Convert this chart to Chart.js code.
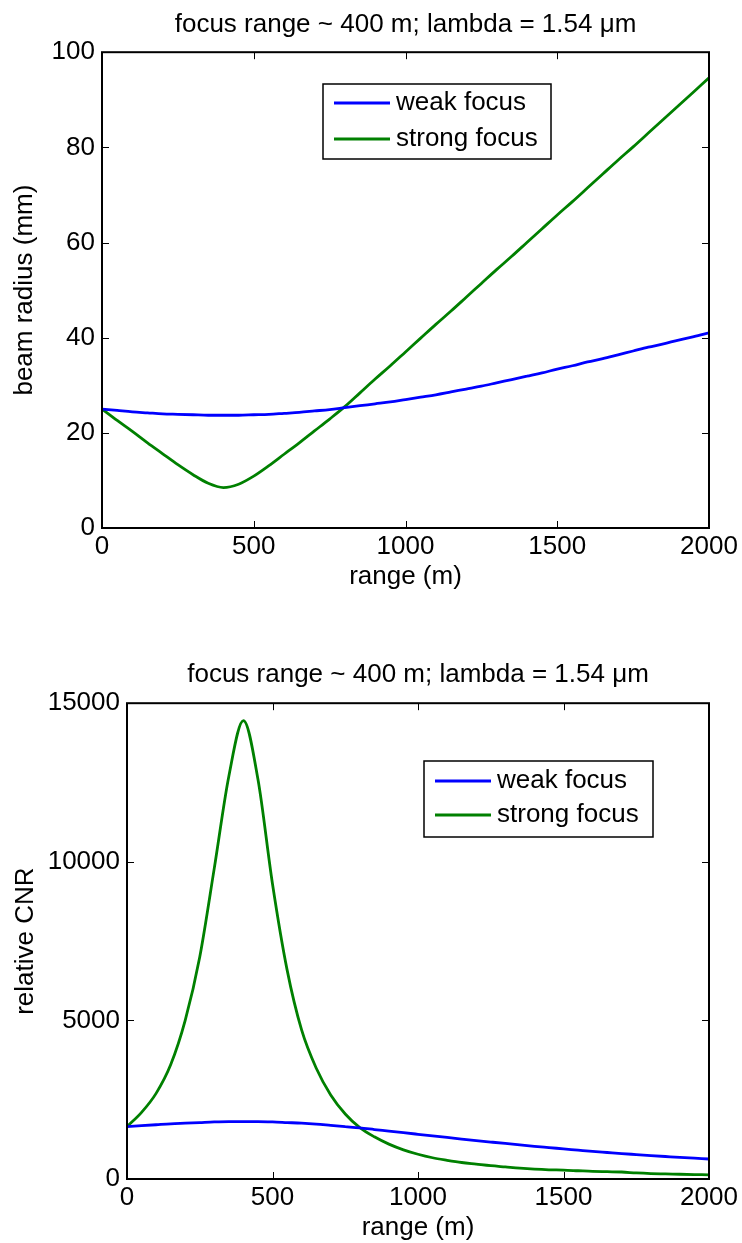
<!DOCTYPE html>
<html>
<head>
<meta charset="utf-8">
<title>Beam radius and CNR</title>
<script src="https://cdn.jsdelivr.net/npm/chart.js@4.4.1/dist/chart.umd.min.js"></script>
<style>
  html, body { margin: 0; padding: 0; background: #fff; }
  #wrap { position: relative; width: 742px; height: 1243px; }
  canvas { position: absolute; left: 0; }
  #radiusChart { top: 0; }
  #cnrChart { top: 592px; }
</style>
</head>
<body>
<div id="wrap">
  <canvas id="radiusChart" width="742" height="592"></canvas>
  <canvas id="cnrChart" width="742" height="651"></canvas>
</div>
<script>
// range samples (m)
const rangeM = [0, 50, 100, 150, 200, 250, 300, 350, 400, 450, 500, 550, 600, 650, 700, 750, 800, 850, 900, 950,
  1000, 1050, 1100, 1150, 1200, 1250, 1300, 1350, 1400, 1450, 1500, 1550, 1600, 1650, 1700, 1750, 1800, 1850, 1900, 1950, 2000];

// beam radius (mm)
const weakRadius = [25.0, 24.7, 24.4, 24.2, 24.0, 23.9, 23.8, 23.7, 23.7, 23.7, 23.8, 23.9, 24.1, 24.3, 24.6, 24.9, 25.3, 25.7, 26.1, 26.5,
  27.0, 27.5, 28.0, 28.6, 29.2, 29.8, 30.5, 31.2, 31.9, 32.6, 33.4, 34.1, 34.9, 35.6, 36.4, 37.2, 38.0, 38.7, 39.5, 40.2, 41.0];
const strongRadius = [25.0, 22.6, 20.3, 17.9, 15.6, 13.3, 11.2, 9.4, 8.5, 9.2, 10.9, 13.1, 15.5, 17.9, 20.4, 22.9, 25.5, 28.4, 31.3, 34.1,
  37.0, 39.9, 42.8, 45.6, 48.5, 51.4, 54.3, 57.1, 60.0, 62.9, 65.8, 68.6, 71.5, 74.4, 77.3, 80.1, 83.0, 85.9, 88.8, 91.7, 94.6];

// relative CNR
const weakCnr = [1650, 1680, 1710, 1740, 1760, 1780, 1800, 1810, 1810, 1810, 1800, 1780, 1760, 1730, 1690, 1650, 1610, 1560, 1510, 1460,
  1410, 1360, 1310, 1260, 1210, 1165, 1120, 1075, 1030, 990, 950, 910, 870, 835, 800, 770, 740, 710, 680, 655, 630];
const strongCnr = [1650, 2100, 2700, 3600, 5000, 7000, 9800, 12700, 14450, 12600, 9300, 6600, 4700, 3500, 2650, 2050, 1620, 1330, 1100, 920,
  780, 670, 590, 520, 470, 420, 380, 340, 310, 290, 280, 260, 240, 230, 220, 190, 170, 160, 150, 140, 130];

const seriesNames = ['weak focus', 'strong focus'];
const seriesColors = ['#0000ff', '#008000'];

const rangeTicks = [0, 500, 1000, 1500, 2000];
const radiusTicks = [0, 20, 40, 60, 80, 100];
const cnrTicks = [0, 5000, 10000, 15000];

const chartTitle = 'focus range ~ 400 m; lambda = 1.54 \u03bcm';
const FONT = "'Liberation Sans', Arial, Helvetica, sans-serif";
const FS = 26;

// box around plot area with inward ticks on all four sides (matlab style)
const boxAxes = {
  id: 'boxAxes',
  afterDatasetsDraw(chart) {
    const { ctx, chartArea: a, scales } = chart;
    const len = 7;
    ctx.save();
    ctx.strokeStyle = '#000';
    ctx.lineWidth = 1;
    ctx.beginPath();
    scales.x.ticks.forEach(t => {
      const px = Math.round(scales.x.getPixelForValue(t.value)) + 0.5;
      ctx.moveTo(px, a.bottom); ctx.lineTo(px, a.bottom - len);
      ctx.moveTo(px, a.top); ctx.lineTo(px, a.top + len);
    });
    scales.y.ticks.forEach(t => {
      const py = Math.round(scales.y.getPixelForValue(t.value)) + 0.5;
      ctx.moveTo(a.left, py); ctx.lineTo(a.left + len, py);
      ctx.moveTo(a.right, py); ctx.lineTo(a.right - len, py);
    });
    ctx.stroke();
    ctx.lineWidth = 2;
    ctx.strokeRect(a.left, a.top, a.right - a.left, a.bottom - a.top);
    ctx.restore();
  }
};

// legend box drawn inside the plot
const boxLegend = {
  id: 'boxLegend',
  afterDraw(chart, args, opts) {
    const { ctx } = chart;
    ctx.save();
    ctx.fillStyle = '#fff';
    ctx.fillRect(opts.x, opts.y, opts.w, opts.h);
    ctx.strokeStyle = '#000';
    ctx.lineWidth = 1.5;
    ctx.strokeRect(opts.x, opts.y, opts.w, opts.h);
    ctx.font = FS + 'px ' + FONT;
    ctx.textBaseline = 'middle';
    ctx.fillStyle = '#000';
    chart.data.datasets.forEach((ds, i) => {
      const cy = opts.y + opts.row0 + i * opts.rowGap;
      ctx.strokeStyle = ds.borderColor;
      ctx.lineWidth = 3;
      ctx.beginPath();
      ctx.moveTo(opts.x + 11, cy);
      ctx.lineTo(opts.x + 67, cy);
      ctx.stroke();
      ctx.fillText(ds.label, opts.x + 73, cy);
    });
    ctx.restore();
  }
};

function makeChart(id, cfg) {
  const datasets = cfg.series.map((vals, i) => ({
    label: seriesNames[i],
    data: rangeM.map((x, j) => ({ x: x, y: vals[j] })),
    borderColor: seriesColors[i],
    borderWidth: 2.8,
    pointRadius: 0,
    fill: false,
    cubicInterpolationMode: 'monotone'
  }));
  return new Chart(document.getElementById(id).getContext('2d'), {
    type: 'line',
    data: { datasets },
    plugins: [boxAxes, boxLegend],
    options: {
      responsive: false,
      animation: false,
      events: [],
      layout: { padding: { left: 0, right: 33, top: 0, bottom: 0 } },
      plugins: {
        legend: { display: false },
        tooltip: { enabled: false },
        title: {
          display: true,
          fullSize: false,
          text: chartTitle,
          color: '#000',
          font: { family: FONT, size: FS, weight: 'normal', lineHeight: 1.2 },
          padding: cfg.titlePad
        },
        boxLegend: cfg.legend
      },
      scales: {
        x: {
          type: 'linear',
          min: 0, max: 2000,
          afterBuildTicks: s => { s.ticks = rangeTicks.map(v => ({ value: v })); },
          afterFit: s => { s.height = 64; },
          grid: { display: false, drawTicks: false },
          border: { display: false },
          ticks: { color: '#000', padding: 3, maxRotation: 0, font: { family: FONT, size: FS }, callback: v => String(v) },
          title: { display: true, text: 'range (m)', color: '#000', padding: { top: 0, bottom: 0 }, font: { family: FONT, size: FS, lineHeight: 1.2 } }
        },
        y: {
          min: cfg.yMin, max: cfg.yMax,
          afterBuildTicks: s => { s.ticks = cfg.yTicks.map(v => ({ value: v })); },
          afterFit: s => { s.width = cfg.yWidth; },
          grid: { display: false, drawTicks: false },
          border: { display: false },
          ticks: { color: '#000', padding: 7, font: { family: FONT, size: FS }, callback: v => String(v) },
          title: { display: true, text: cfg.yTitle, color: '#000', padding: { top: cfg.yTitlePad, bottom: 0 }, font: { family: FONT, size: FS, lineHeight: 1.2 } }
        }
      }
    }
  });
}

makeChart('radiusChart', {
  series: [weakRadius, strongRadius],
  yMin: 0, yMax: 100, yTicks: radiusTicks,
  yTitle: 'beam radius (mm)', yWidth: 102, yTitlePad: 9,
  titlePad: { top: 9, bottom: 12 },
  legend: { x: 323, y: 84, w: 228, h: 75, row0: 19, rowGap: 36 }
});

makeChart('cnrChart', {
  series: [weakCnr, strongCnr],
  yMin: 0, yMax: 15000, yTicks: cnrTicks,
  yTitle: 'relative CNR', yWidth: 127, yTitlePad: 10,
  titlePad: { top: 67, bottom: 13 },
  legend: { x: 424, y: 169, w: 229, h: 76, row0: 20, rowGap: 34 }
});
</script>
</body>
</html>
